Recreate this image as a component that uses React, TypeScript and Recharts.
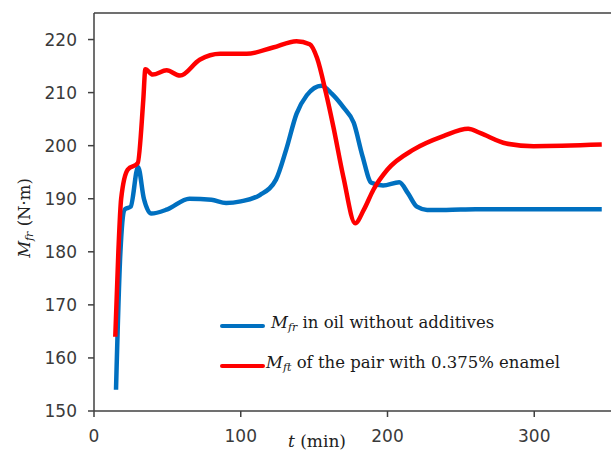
import React from 'react';
import {
  LineChart,
  Line,
  XAxis,
  YAxis,
  ReferenceLine,
  Legend,
  Label,
} from 'recharts';

// time (min) and friction torque (N·m)
const oilT = [15, 18, 21, 25, 30, 34, 39, 50, 65, 80, 90, 100, 113, 124, 131, 138, 145, 155, 162, 170, 177, 183, 189, 197, 208, 214, 220, 227, 240, 260, 300, 346];
const oilM = [154, 180, 188, 188.5, 196, 190, 187.2, 188, 190, 189.8, 189.2, 189.5, 190.7, 193.6, 199.3, 206, 209.5, 211.3, 209.8, 207.2, 204.3, 198, 193, 192.5, 193.1, 191, 188.5, 187.9, 187.9, 188, 188, 188];

const enamelT = [14.5, 16.6, 18.5, 23, 29.8, 33.6, 35, 40, 49.5, 58.6, 72, 86, 104, 122, 138, 147, 152, 158, 163, 170, 178, 184, 190.4, 200, 218, 238, 255, 263, 281, 299.5, 346];
const enamelM = [164, 180, 190, 195.5, 196.7, 208.7, 214.4, 213.4, 214.2, 213.2, 216.2, 217.3, 217.3, 218.5, 219.7, 219.1, 216.5, 210, 203.7, 194, 185.4, 188, 191.7, 195.5, 199.3, 201.8, 203.2, 202.4, 200.4, 199.9, 200.2];

const xTicks = [0, 100, 200, 300];
const yTicks = [150, 160, 170, 180, 190, 200, 210, 220];

const oilData = oilT.map((t, i) => ({ t, m: oilM[i] }));
const enamelData = enamelT.map((t, i) => ({ t, m: enamelM[i] }));

const BLUE = '#0070C0';
const RED = '#FF0000';
const AXIS = '#404040';
const tickStyle = { fontFamily: 'DejaVu Sans', fontSize: 17, fill: '#3a3a3a' };
const serif = 'DejaVu Serif';

const LegendBox = () => {
  const rows = [
    { color: BLUE, sub: 'fr', text: ' in oil without additives', lineY: 326, textX: 271 },
    { color: RED, sub: 'ft', text: ' of the pair with 0.375% enamel', lineY: 366, textX: 266 },
  ];
  return (
    <div style={{ position: 'relative' }}>
      {rows.map((r) => (
        <React.Fragment key={r.sub + r.text}>
          <div
            style={{
              position: 'absolute',
              left: 220,
              top: r.lineY - 2,
              width: 45,
              height: 4,
              borderRadius: 2,
              background: r.color,
            }}
          />
          <div
            style={{
              position: 'absolute',
              left: r.textX,
              top: r.lineY - 13,
              whiteSpace: 'nowrap',
              fontFamily: serif,
              fontSize: 16.5,
              lineHeight: '20px',
              color: '#1a1a1a',
            }}
          >
            <i>M</i>
            <i style={{ fontSize: 11, position: 'relative', top: 3 }}>{r.sub}</i>
            {r.text}
          </div>
        </React.Fragment>
      ))}
    </div>
  );
};

const YTitle = () => (
  <text
    x={30}
    y={218}
    transform="rotate(-90, 30, 218)"
    textAnchor="middle"
    fontFamily={serif}
    fontSize={16.5}
    fill="#222"
  >
    <tspan fontStyle="italic">M</tspan>
    <tspan fontStyle="italic" fontSize={11} dy={3}>fr</tspan>
    <tspan dy={-3}> (N·m)</tspan>
  </text>
);

const XTitle = () => (
  <text x={317} y={447} textAnchor="middle" fontFamily={serif} fontSize={17} fill="#222">
    <tspan fontStyle="italic">t</tspan>
    <tspan> (min)</tspan>
  </text>
);

export default function App() {
  return (
    <div
      style={{
        position: 'absolute',
        left: 0,
        top: 0,
        width: 611,
        height: 453,
        overflow: 'hidden',
        background: '#fff',
      }}
    >
      <LineChart
        width={700}
        height={453}
        margin={{ top: 13, right: 19, bottom: 0, left: 0 }}
      >
        <XAxis
          type="number"
          dataKey="t"
          domain={[0, 400]}
          ticks={xTicks}
          height={42}
          tickSize={6}
          tickMargin={13}
          stroke={AXIS}
          strokeWidth={1.5}
          tick={tickStyle}
          allowDuplicatedCategory={false}
        >
          <Label content={<XTitle />} />
        </XAxis>
        <YAxis
          type="number"
          domain={[150, 225]}
          ticks={yTicks}
          width={94}
          tickSize={6}
          tickMargin={11}
          stroke={AXIS}
          strokeWidth={1.5}
          tick={tickStyle}
        >
          <Label content={<YTitle />} />
        </YAxis>
        <ReferenceLine y={225} stroke={AXIS} strokeWidth={1.5} />
        <Legend
          layout="vertical"
          align="center"
          verticalAlign="middle"
          content={<LegendBox />}
          wrapperStyle={{ left: 0, top: 0, width: 0, height: 0 }}
        />
        <Line
          data={oilData}
          dataKey="m"
          type="monotone"
          stroke={BLUE}
          strokeWidth={4.5}
          dot={false}
          isAnimationActive={false}
        />
        <Line
          data={enamelData}
          dataKey="m"
          type="monotone"
          stroke={RED}
          strokeWidth={4.5}
          dot={false}
          isAnimationActive={false}
        />
      </LineChart>
    </div>
  );
}
